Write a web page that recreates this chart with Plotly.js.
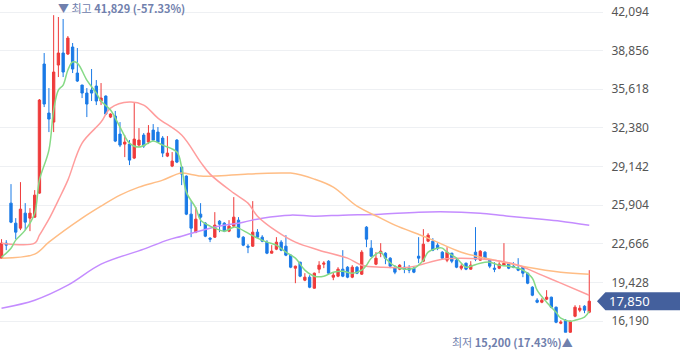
<!DOCTYPE html>
<html>
<head>
<meta charset="utf-8">
<script src="https://cdn.plot.ly/plotly-3.0.1.min.js"></script>
<style>
html,body{margin:0;padding:0;background:#fff;}
#chart{width:680px;height:358px;}
</style>
</head>
<body>
<div id="chart"></div>
<script>
// ---- Data ----
const openP  = [21457,22715,26071,24393,23974,25232,24813,24897,26910,37732,33621,32866,37648,38655,38571,39158,36977,35970,35299,35551,35886,34628,35047,33286,33369,31860,31021,31021,29846,30937,31776,31189,32195,32027,31524,30014,29175,31356,29091,28336,25148,23638,25148,24393,23135,23218,24561,24393,23722,24142,24645,23218,22462,22462,23638,23218,22799,21876,22212,22799,22462,21708,20618,21121,19612,19863,18940,20534,20953,21205,19863,19947,20534,20702,19863,20702,20115,24058,22296,20953,21876,21876,21457,20702,20534,20702,20618,20618,21624,21205,22883,22883,22547,21960,21289,21876,21289,20618,21037,20534,21960,21289,21960,21289,20618,20618,20870,21037,20786,20618,20702,20199,19024,17934,17766,18017,18185,17346,16004,16255,15249,16591,17095,17430,16927];
const highP  = [23051,22967,27665,24813,27833,26071,25652,27162,34800,38655,35718,41829,41675,41507,40081,39494,39074,35990,35718,37313,36389,36138,35100,33600,33800,32866,31776,31356,34460,32363,31943,32614,32698,32447,31692,31692,30350,31440,29150,28400,26239,25735,26071,24477,23218,25316,24645,24477,24645,26575,24897,23302,22631,26239,23890,23386,22967,22547,23218,22967,23386,21792,20830,21150,20199,20031,20250,21205,21205,21289,20283,20702,22128,20786,20870,20786,22128,24142,22967,21960,22715,21960,21540,20870,20953,21205,20870,20786,23218,23890,23554,23135,22715,22044,22379,21900,21457,20953,21080,21205,24058,22128,22044,21373,21121,21121,22715,21080,21121,21457,20750,20250,19108,18101,18101,18773,18230,17400,16255,16339,16220,17514,17514,17514,20450];
const lowP   = [21400,22128,24393,23051,23806,23806,23722,24850,26850,34124,32027,32027,36641,36641,38487,36977,36222,34879,33286,34628,34292,34292,33453,33200,31189,30769,29930,29259,29762,30769,30700,31021,31300,31100,29930,29930,29091,29427,27581,25064,23218,23554,24142,23218,22799,23150,23638,23638,23638,24058,23135,22462,21876,22400,23135,22799,21792,21850,22128,22044,21624,20618,19360,19863,19528,18940,18900,20199,20618,20115,19612,19863,19863,19779,19779,20115,20050,22379,21560,20870,21540,20953,20618,20115,20450,20199,20199,20199,21037,21121,22799,22044,22128,21373,21121,21037,20618,20450,20450,20500,21205,21250,21373,20618,20283,20534,20786,20534,20618,20366,19863,19276,18269,17682,17682,17934,17262,16004,15920,15249,15200,16507,16927,16843,16843];
const closeP = [22715,22547,24477,23638,25568,24477,25232,26742,34712,34376,33118,37061,38655,37061,39913,37313,36306,35299,34376,35299,34628,34879,33537,33537,31272,30937,31189,29678,31440,31356,30853,31943,31356,31189,30266,30266,29595,29511,28504,25148,23974,24729,24897,23302,23051,24226,24309,23722,24142,24897,23218,22547,22379,23638,23218,22883,21876,22044,22799,22128,21708,20702,20786,19947,19863,19024,20199,20870,21037,20199,20031,20534,19947,19863,20702,20199,21960,23051,21624,21457,22044,21457,20786,20283,20870,20534,20450,20283,21457,22631,23386,22128,22296,21457,21960,21205,20702,20786,20534,20870,21373,22044,21457,20786,20534,20953,21037,20618,20702,20450,20199,19360,18353,17766,17934,18185,17346,16087,16087,15249,16171,17346,17262,17095,17850];

// Moving-average lines (candle index, price)
const ma5X  = [0,2,3,5,7,8,10,11,12,13,14,15,16,18,20,21,23,25,27,29,31,32,34,37,38,39,41,42,44,45,47,49,50,52,54,56,58,60,62,64,66,68,70,72,74,76,77,78,80,81,83,85,87,89,90,92,93,94,96,98,99,101,103,105,107,109,110,112,113,115,117,118,120,121,123,124];
const ma5Y  = [21541,22296,22967,23806,25232,28001,30518,33873,35551,35970,37228,37900,37816,36389,35299,34628,33873,32447,31105,30769,31105,31272,30937,30350,29091,26994,25652,24645,24142,23974,23722,24058,23974,23554,23135,22799,22547,21960,21457,20450,19947,19947,20283,20366,20199,20450,20870,21457,21960,21457,20786,20534,20618,21289,21960,22296,22296,21960,21457,20702,20786,21037,21121,20870,20786,20618,20450,19779,18773,17766,16927,16424,16171,16255,16507,17011];
const ma20X = [0,7,8,10,12,14,17,21,23,27,30,33,38,42,44,49,52,54,58,62,67,73,76,80,86,93,97,104,109,114,118,124];
const ma20Y = [22715,22715,23386,24729,26323,28001,31105,32866,34041,34544,34292,33202,31776,29511,28504,26910,26071,24980,23722,22799,22128,21457,20870,20702,20702,21373,21457,21289,20870,20031,19360,18353];
const ma60X = [0,7,10,17,21,25,29,34,37,38,42,45,52,59,61,66,70,75,80,83,90,97,104,111,118,124];
const ma60Y = [21457,21792,22799,24813,25820,26742,27414,28001,28504,28588,28336,28336,28504,28588,28588,28085,27414,25820,24813,24226,23135,21960,21289,20702,20283,20115];
const ma120X = [0,7,14,21,30,35,38,44,51,55,61,66,72,80,88,97,101,107,114,118,124];
const ma120Y = [17262,17934,19192,20953,22212,22967,23302,23974,24477,24813,25064,24980,25064,25148,25316,25316,25232,24980,24729,24561,24226];

const yTicks = [16190,19428,22666,25904,29142,32380,35618,38856,42094];

// ---- Build ----
const idx = closeP.map((_, i) => i);
const fmt = v => v.toLocaleString('en-US');
const lastClose = closeP[closeP.length - 1];
const maxHigh = Math.max(...highP);
const minLow = Math.min(...lowP);
const hiIdx = highP.indexOf(maxHigh);
const loIdx = lowP.lastIndexOf(minLow);
const pctHi = ((lastClose - maxHigh) / maxHigh * 100).toFixed(2);
const pctLo = ((lastClose - minLow) / minLow * 100).toFixed(2);

const RED = '#ef3b3b', BLUE = '#1a7ae6';
const traces = [
  {type:'candlestick', x: idx, open: openP, high: highP, low: lowP, close: closeP,
   increasing:{line:{color:RED, width:1}, fillcolor:RED},
   decreasing:{line:{color:BLUE, width:1}, fillcolor:BLUE},
   whiskerwidth:0, hoverinfo:'skip', showlegend:false},
  {type:'scatter', mode:'lines', x: ma120X, y: ma120Y, line:{color:'#c48cff', width:1.5, shape:'spline'}, hoverinfo:'skip', showlegend:false},
  {type:'scatter', mode:'lines', x: ma60X, y: ma60Y, line:{color:'#ffbd85', width:1.5, shape:'spline'}, hoverinfo:'skip', showlegend:false},
  {type:'scatter', mode:'lines', x: ma20X, y: ma20Y, line:{color:'#ff9d9d', width:1.5, shape:'spline'}, hoverinfo:'skip', showlegend:false},
  {type:'scatter', mode:'lines', x: ma5X, y: ma5Y, line:{color:'#86da86', width:1.5, shape:'spline'}, hoverinfo:'skip', showlegend:false}
];

const FONT = 'Noto Sans CJK KR, Noto Sans, sans-serif';
const tagH = 755;
const layout = {
  width: 680, height: 358,
  margin: {l:0, r:77, t:0, b:0},
  paper_bgcolor:'#fff', plot_bgcolor:'#fff',
  hovermode:false, showlegend:false,
  font:{family:FONT},
  xaxis:{range:[-0.32, 126.9], showgrid:false, zeroline:false, showticklabels:false, ticks:'', showline:false, rangeslider:{visible:false}, fixedrange:true},
  yaxis:{side:'right', range:[13088, 43100], tickvals:yTicks, ticktext:yTicks.map(fmt),
         showgrid:true, gridcolor:'#eef0f3', gridwidth:1, zeroline:false, showline:false,
         ticks:'outside', ticklen:5, tickcolor:'rgba(0,0,0,0)',
         tickfont:{family:'Noto Sans, sans-serif', size:12, color:'#555'}, fixedrange:true},
  shapes:[
    {type:'path', xref:'paper', yref:'y', layer:'above',
     path:`M 0.990 ${lastClose} L 1.004 ${lastClose+tagH} L 1.15 ${lastClose+tagH} L 1.15 ${lastClose-tagH} L 1.004 ${lastClose-tagH} Z`,
     fillcolor:'#44609d', line:{width:0}}
  ],
  annotations:[
    {x: hiIdx, y: maxHigh, xref:'x', yref:'y', xanchor:'left', yanchor:'middle', xshift:2, yshift:7, showarrow:false,
     text:`▼ 최고 <b>${fmt(maxHigh)} (${pctHi}%)</b>`, font:{family:FONT, size:11, color:'#7080ad'}},
    {x: loIdx, y: minLow, xref:'x', yref:'y', xanchor:'right', yanchor:'middle', xshift:5, yshift:-9, showarrow:false,
     text:`최저 <b>${fmt(minLow)} (${pctLo}%)</b>▲`, font:{family:FONT, size:11, color:'#7080ad'}},
    {x: 1, y: lastClose, xref:'paper', yref:'y', xanchor:'left', yanchor:'middle', xshift:4, showarrow:false,
     text: fmt(lastClose), font:{family:'Noto Sans, sans-serif', size:13, color:'#fff'}}
  ]
};

Plotly.newPlot('chart', traces, layout, {displayModeBar:false, staticPlot:true});
</script>
</body>
</html>
